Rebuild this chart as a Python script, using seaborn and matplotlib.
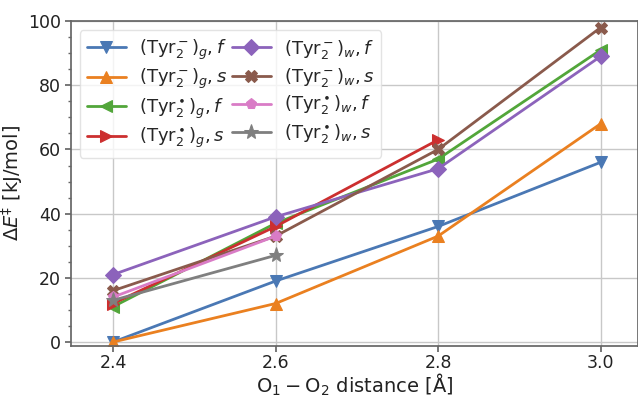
import matplotlib
matplotlib.use("Agg")
import matplotlib.pyplot as plt
import seaborn as sns
import numpy as np
import pandas as pd
from matplotlib.ticker import MultipleLocator

distances = [2.4, 2.6, 2.8, 3.0]

labels = [
    r"(Tyr$_2^-$)$_g, f$",
    r"(Tyr$_2^-$)$_g, s$",
    r"(Tyr$_2^\bullet$)$_g, f$",
    r"(Tyr$_2^\bullet$)$_g, s$",
    r"(Tyr$_2^-$)$_w, f$",
    r"(Tyr$_2^-$)$_w, s$",
    r"(Tyr$_2^\bullet$)$_w, f$",
    r"(Tyr$_2^\bullet$)$_w, s$",
]

tyr_neg_g_f = [0, 19, 36, 56]
tyr_neg_g_s = [0, 12, 33, 68]
tyr_rad_g_f = [11, 37, 57, 91]
tyr_rad_g_s = [12, 36, 63]
tyr_neg_w_f = [21, 39, 54, 89]
tyr_neg_w_s = [16, 33, 60, 98]
tyr_rad_w_f = [14, 33]
tyr_rad_w_s = [13, 27]

series = [tyr_neg_g_f, tyr_neg_g_s, tyr_rad_g_f, tyr_rad_g_s,
          tyr_neg_w_f, tyr_neg_w_s, tyr_rad_w_f, tyr_rad_w_s]
markers = ["v", "^", "<", ">", "D", "X", "p", "*"]
colors = ["#4a78b4", "#ea8020", "#52a63a", "#cc2f2f",
          "#8c63bb", "#8a5a4c", "#d97cc6", "#7f7f7f"]

sns.set_theme(style="ticks", rc={
    "axes.grid": True,
    "grid.color": "#c8c8c8",
    "grid.linewidth": 1.0,
    "axes.edgecolor": "#666666",
    "xtick.color": "#666666",
    "ytick.color": "#666666",
    "xtick.labelcolor": "#222222",
    "ytick.labelcolor": "#222222",
    "axes.labelcolor": "#222222",
})
plt.rcParams["font.family"] = ["DejaVu Sans"]
plt.rcParams["mathtext.fontset"] = "dejavusans"

fig = plt.figure(figsize=(6.38, 3.98), dpi=100)
ax = fig.add_axes([0.111, 0.131, 0.889, 0.816])

for lab, vals, m, c in zip(labels, series, markers, colors):
    df = pd.DataFrame({"x": distances[:len(vals)], "y": vals})
    ms = 11 if m == "*" else 8
    sns.lineplot(data=df, x="x", y="y", ax=ax, color=c, marker=m,
                 markersize=ms, linewidth=2, markeredgecolor=c, label=lab)

ax.set_xlim(2.348, 3.046)
ax.set_ylim(-1.2, 100)
ax.set_xticks(distances)
ax.set_xticklabels(["2.4", "2.6", "2.8", "3.0"])
ax.set_yticks([0, 20, 40, 60, 80, 100])
ax.yaxis.set_minor_locator(MultipleLocator(5))
ax.tick_params(axis="both", which="major", labelsize=12.5, length=4, pad=3)
ax.tick_params(axis="x", which="major", pad=2)
ax.tick_params(axis="y", which="minor", length=2.5)
ax.grid(True, which="major")
ax.grid(False, which="minor")
ax.set_axisbelow(True)

ax.set_xlabel(r"$\mathrm{O_1 - O_2}$ distance [Å]", fontsize=14, labelpad=0)
ax.set_ylabel(r"$\Delta E^{\ddagger}$ [kJ/mol]", fontsize=14, labelpad=2)

leg = ax.legend(loc="upper left", ncol=2, fontsize=13, frameon=True,
                handlelength=2.15, columnspacing=0.3, labelspacing=0.3,
                borderaxespad=0.5, handletextpad=0.7, borderpad=0.4)
leg.get_frame().set_edgecolor("#dddddd")

fig.savefig("out.png", dpi=100)
